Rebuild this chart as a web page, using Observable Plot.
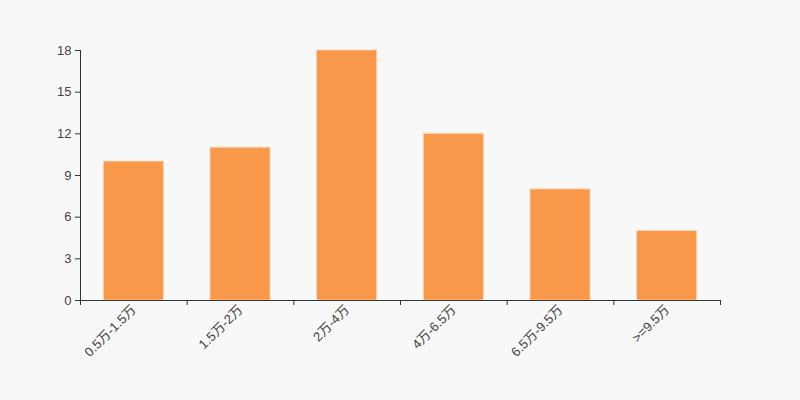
<!DOCTYPE html>
<html><head><meta charset="utf-8">
<script src="https://cdn.jsdelivr.net/npm/d3@7"></script>
<script src="https://cdn.jsdelivr.net/npm/@observablehq/plot@0.6"></script>
<style>
html,body{margin:0;padding:0;background:#f8f8f8;}
svg{font-family:"Liberation Sans",Arial,"Noto Sans CJK SC",sans-serif;}
</style>
</head><body>
<div id="chart"></div>
<script>
const categories = ["0.5万-1.5万", "1.5万-2万", "2万-4万", "4万-6.5万", "6.5万-9.5万", ">=9.5万"];
const counts = [10, 11, 18, 12, 8, 5];
const yTicks = [0, 3, 6, 9, 12, 15, 18];

const data = categories.map((c, i) => ({cat: c, value: counts[i]}));
const W = 800, H = 400, ML = 80, MR = 80, MT = 50, MB = 100;
const step = (W - ML - MR) / categories.length;
const lastCat = categories.slice(-1);

const plot = Plot.plot({
  width: W, height: H,
  marginLeft: ML, marginRight: MR, marginTop: MT, marginBottom: MB,
  style: {background: "#f8f8f8", fontSize: "12px", color: "#444"},
  x: {domain: categories, paddingInner: 0.4375, paddingOuter: 0.21875, round: false, label: null},
  y: {domain: [0, 18], label: null},
  marks: [
    Plot.barY(data, {x: "cat", y: "value", fill: "#f7984a", stroke: "#fbd3b0", strokeWidth: 1, strokeOpacity: 0.8}),
    Plot.axisY({ticks: yTicks, tickSize: 5, tickPadding: 4, stroke: "#333", fill: "#444", fontSize: 13, label: null}),
    Plot.frame({anchor: "left", stroke: "#333", strokeOpacity: 1}),
    Plot.axisX({tickSize: 0, tickPadding: 7, tickRotate: -45, fill: "#444", fontSize: 13, label: null}),
    Plot.ruleY([0], {stroke: "#333"}),
    Plot.ruleX(categories, {x: d => d, dx: -step / 2, y1: 0, y2: 0, insetBottom: -5, stroke: "#333"}),
    Plot.ruleX(lastCat, {x: d => d, dx: step / 2, y1: 0, y2: 0, insetBottom: -5, stroke: "#333"}),
  ]
});
document.getElementById("chart").append(plot);
</script>
</body></html>
